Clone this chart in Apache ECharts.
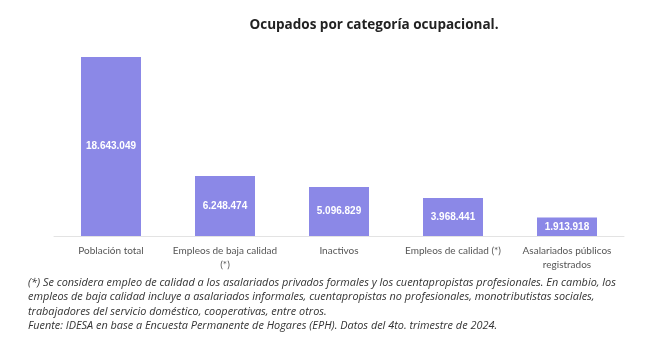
<!DOCTYPE html>
<html><head><meta charset="utf-8">
<script src="https://cdn.jsdelivr.net/npm/echarts@6/dist/echarts.min.js"></script>
<style>html,body{margin:0;padding:0;background:#fff}#c{width:650px;height:360px}</style>
</head><body><div id="c"></div>
<script>
const categories = ["Población total","Empleos de baja calidad\n(*)","Inactivos","Empleos de calidad (*)","Asalariados públicos\nregistrados"];
const values = [18643049, 6248474, 5096829, 3968441, 1913918];
const valueLabels = ["18.643.049","6.248.474","5.096.829","3.968.441","1.913.918"];
const titleText = "Ocupados por categoría ocupacional.";
const notes = [
 "(*) Se considera empleo de calidad a los asalariados privados formales y los cuentapropistas profesionales. En cambio, los",
 "empleos de baja calidad incluye a asalariados informales, cuentapropistas no profesionales, monotributistas sociales,",
 "trabajadores del servicio doméstico, cooperativas, entre otros.",
 "Fuente: IDESA en base a Encuesta Permanente de Hogares (EPH). Datos del 4to. trimestre de 2024."
];
const chart = echarts.init(document.getElementById('c'));
chart.setOption({
  backgroundColor:'#fff',
  title:{text:titleText,left:369,top:13,textAlign:'center',textStyle:{fontFamily:'Open Sans',fontSize:13.5,fontWeight:'bold',color:'#222'}},
  grid:{left:54,right:26,top:57,bottom:124},
  xAxis:{type:'category',data:categories,axisTick:{show:false},
    axisLine:{lineStyle:{color:'#e3e3e3',width:1}},
    axisLabel:{color:'#555',fontFamily:'Lato',fontSize:10,margin:8,lineHeight:14,interval:0}},
  yAxis:{type:'value',min:0,max:values[0],show:false,splitLine:{show:false}},
  series:[{type:'bar',data:values,barWidth:60,itemStyle:{color:'#8B88E7'},
    label:{show:true,position:'inside',color:'#fff',fontWeight:'bold',fontFamily:'Liberation Sans',fontSize:10,
      formatter:p=>valueLabels[p.dataIndex]}}],
  graphic: notes.map((t,i)=>({type:'text',left:28,top:277+i*14.5,
    style:{text:t,fill:'#333',font:'italic 10.9px "Open Sans"'}}))
});
</script></body></html>
